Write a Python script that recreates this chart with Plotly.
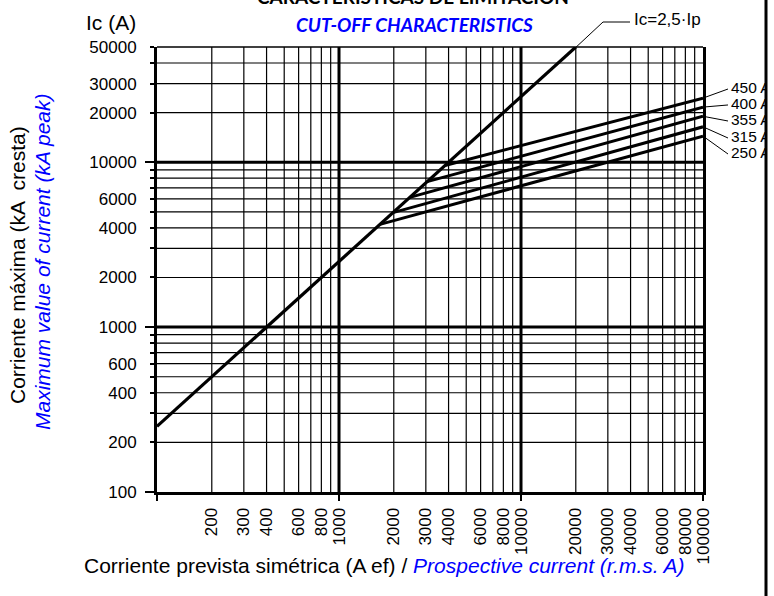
import math
import plotly.graph_objects as go

# ---- data -----------------------------------------------------------------
# Fuse cut-off curves: each leaves the Ic = 2.5·Ip line at KNEE_IP and runs
# straight (log-log) to the value END_IC at the right edge (Ip = 100 kA).
FUSE_RATINGS = ["250 A", "315 A", "355 A", "400 A", "450 A"]
KNEE_IP = [1680, 1980, 2450, 3050, 3820]
END_IP = 100000
END_IC = [14400, 16400, 19000, 21600, 24500]

# Unlimited peak current line Ic = 2.5·Ip
PEAK_FACTOR = 2.5
LIMIT_IP = [100, 20000]

X_TICK_LABELS = [200, 300, 400, 600, 800, 1000, 2000, 3000, 4000, 6000, 8000,
                 10000, 20000, 30000, 40000, 60000, 80000, 100000]
Y_TICK_LABELS = [100, 200, 400, 600, 1000, 2000, 4000, 6000, 10000, 20000,
                 30000, 50000]

# vertical placement of the rating labels (in Ic units, right of the chart)
LABEL_IC = [11220, 14030, 17790, 22250, 27810]

# ---- layout constants --------------------------------------------------------
W, H = 774, 596
ML, MR, MT, MB = 157, 8, 47, 104
PLOT_W = W - ML - MR
XD = 546 / PLOT_W          # main x-axis domain end (x = 100 000)
X_MIN, X_MAX = 100, 100000
Y_MIN, Y_MAX = 100, 50000

FONT = "Liberation Sans, Arial, sans-serif"
BLUE = "#0000ff"


def px_x(px):
    return (px - ML) / PLOT_W


def px_y(py):
    return (H - MB - py) / (H - MT - MB)


minor_x = [m * 10 ** e for e in (2, 3, 4) for m in range(2, 10)]
major_x = [1000, 10000]
minor_y = [m * 10 ** e for e in (2, 3) for m in range(2, 10)] + [20000, 30000, 40000]
major_y = [1000, 10000]


def vlines(vals):
    xs, ys = [], []
    for v in vals:
        xs += [v, v, None]
        ys += [Y_MIN, Y_MAX, None]
    return xs, ys


def hlines(vals):
    xs, ys = [], []
    for v in vals:
        xs += [X_MIN, X_MAX, None]
        ys += [v, v, None]
    return xs, ys


fig = go.Figure()

# grid
for vals, wdt, fn in ((minor_x, 1.2, vlines), (minor_y, 1.2, hlines),
                      (major_x, 3, vlines), (major_y, 3, hlines)):
    gx, gy = fn(vals)
    fig.add_trace(go.Scatter(x=gx, y=gy, mode="lines",
                             line=dict(color="black", width=wdt),
                             hoverinfo="skip"))

# Ic = 2.5·Ip
fig.add_trace(go.Scatter(x=LIMIT_IP, y=[PEAK_FACTOR * v for v in LIMIT_IP],
                         mode="lines", line=dict(color="black", width=3.2),
                         hoverinfo="skip"))

# fuse curves
for name, k, e in zip(FUSE_RATINGS, KNEE_IP, END_IC):
    fig.add_trace(go.Scatter(x=[k, END_IP], y=[PEAK_FACTOR * k, e], name=name,
                             mode="lines", line=dict(color="black", width=3)))

# rating labels with leader lines, clipped at the page frame
lx, ly = [], []
for e, lab in zip(END_IC, LABEL_IC):
    lx += [0, 25, None]
    ly += [e, lab, None]
fig.add_trace(go.Scatter(x=lx, y=ly, xaxis="x2", yaxis="y", mode="lines",
                         line=dict(color="black", width=1), hoverinfo="skip",
                         cliponaxis=True))
fig.add_trace(go.Scatter(x=[28] * len(FUSE_RATINGS), y=LABEL_IC, xaxis="x2",
                         yaxis="y", mode="text", text=FUSE_RATINGS,
                         textposition="middle right",
                         textfont=dict(family=FONT, size=15.5, color="black"),
                         cliponaxis=True, hoverinfo="skip"))

y_vals = sorted(set(minor_y + major_y + Y_TICK_LABELS))
y_text = [f"{v}" if v in Y_TICK_LABELS else "" for v in y_vals]

fig.update_layout(
    width=W, height=H,
    margin=dict(l=ML, r=MR, t=MT, b=MB, autoexpand=False),
    paper_bgcolor="white", plot_bgcolor="white", showlegend=False,
    font=dict(family=FONT, size=17, color="black"),
    xaxis=dict(type="log", range=[math.log10(X_MIN), math.log10(X_MAX)],
               domain=[0, XD], showgrid=False, zeroline=False,
               showline=True, linewidth=3, linecolor="black",
               tickvals=X_TICK_LABELS, ticktext=[str(v) for v in X_TICK_LABELS],
               tickangle=-90, ticks="", ticklabelstandoff=6,
               tickfont=dict(size=17), automargin=False,
               minor=dict(tickvals=[100, 1000, 10000, 100000], ticks="outside",
                          ticklen=6, tickwidth=1.5, tickcolor="black",
                          showgrid=False)),
    yaxis=dict(type="log", range=[math.log10(Y_MIN), math.log10(Y_MAX)],
               domain=[0, 1], showgrid=False, zeroline=False,
               showline=True, mirror=True, linewidth=3, linecolor="black",
               tickvals=y_vals, ticktext=y_text, ticks="outside", ticklen=4,
               tickwidth=1.5, tickcolor="black", ticklabelstandoff=10,
               tickfont=dict(size=17), automargin=False,
               minor=dict(tickvals=[100, 1000, 10000], ticks="outside",
                          ticklen=9, tickwidth=1.5, tickcolor="black",
                          showgrid=False)),
    xaxis2=dict(domain=[XD, 1], anchor="y", range=[0, 63], visible=False,
                automargin=False),
)

# frame: top edge, page border, leader for the 2.5·Ip line
fig.add_shape(type="line", xref="paper", yref="paper", x0=0, x1=XD, y0=1, y1=1,
              line=dict(color="black", width=1.5))
fig.add_shape(type="line", xref="paper", yref="paper", x0=1, x1=1,
              y0=px_y(H + 5), y1=px_y(-5), line=dict(color="black", width=3))
fig.add_shape(type="path", xref="paper", yref="paper",
              path=f"M {px_x(573)} {px_y(50)} L {px_x(603)} {px_y(22)} L {px_x(630)} {px_y(22)}",
              line=dict(color="black", width=1))

ann = [
    dict(text="<b>CARACTERÍSTICAS DE LIMITACIÓN</b>", x=px_x(413), y=px_y(-3),
         font=dict(family="Lato", size=19, color="black")),
    dict(text="<b><i>CUT-OFF CHARACTERISTICS</i></b>", x=px_x(414), y=px_y(25),
         font=dict(family="Lato", size=19, color=BLUE)),
    dict(text="Ic (A)", x=px_x(111), y=px_y(22), font=dict(size=21)),
    dict(text="Ic=2,5·Ip", x=px_x(632), y=px_y(20), xanchor="left",
         font=dict(size=17)),
    dict(text="Corriente máxima (kA  cresta)", x=px_x(17), y=px_y(265),
         textangle=-90, font=dict(size=21)),
    dict(text="<i>Maximum value of current (kA peak)</i>", x=px_x(42),
         y=px_y(262), textangle=-90, font=dict(size=21, color=BLUE)),
    dict(text=("Corriente prevista simétrica (A ef) / "
               f"<i><span style='color:{BLUE}'>Prospective current (r.m.s. A)</span></i>"),
         x=px_x(384), y=px_y(565), font=dict(size=21)),
]
for a in ann:
    a.setdefault("xanchor", "center")
    fig.add_annotation(xref="paper", yref="paper", yanchor="middle",
                       showarrow=False, **a)

fig.write_html("out.html")
